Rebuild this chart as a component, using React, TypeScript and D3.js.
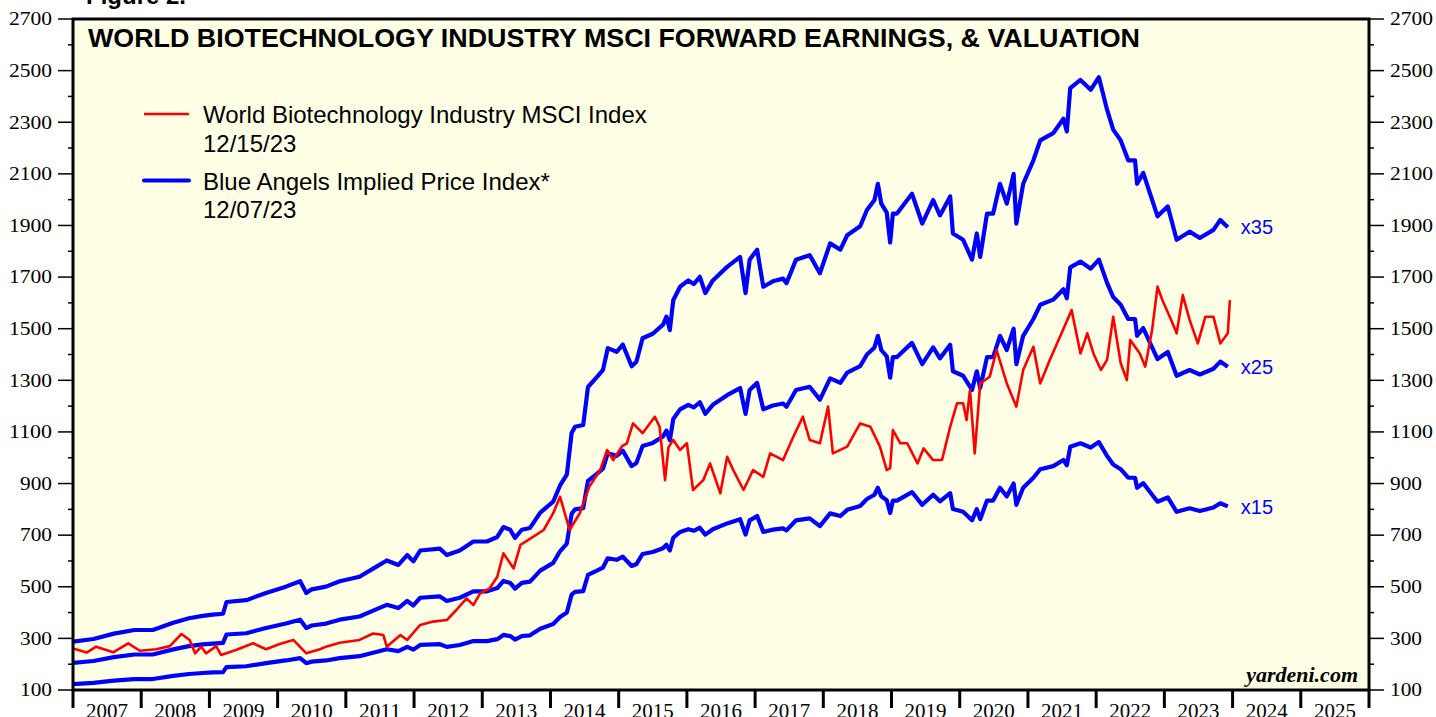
import { line, range, scaleLinear } from 'd3'

const width = 1436
const height = 717
const plot = { left: 73, right: 1369, top: 19, bottom: 690 }

// forward earnings (index points)
const earnYears = [
  2007.0, 2007.3, 2007.6, 2007.9, 2008.17, 2008.47, 2008.7, 2008.9, 2009.05, 2009.2,
  2009.25, 2009.54, 2009.83, 2010.12, 2010.33, 2010.42, 2010.5, 2010.71, 2010.91, 2011.2,
  2011.4, 2011.6, 2011.77, 2011.9, 2011.99, 2012.09, 2012.38, 2012.48, 2012.67, 2012.87,
  2013.07, 2013.22, 2013.31, 2013.41, 2013.48, 2013.58, 2013.7, 2013.85, 2014.04, 2014.14,
  2014.24, 2014.31, 2014.36, 2014.48, 2014.55, 2014.68, 2014.77, 2014.84, 2014.97, 2015.06,
  2015.19, 2015.26, 2015.35, 2015.5, 2015.65, 2015.7, 2015.75, 2015.8, 2015.9, 2016.02,
  2016.1, 2016.19, 2016.27, 2016.38, 2016.59, 2016.78, 2016.86, 2016.92, 2017.03, 2017.12,
  2017.26, 2017.41, 2017.46, 2017.6, 2017.8, 2017.95, 2018.1, 2018.25, 2018.35, 2018.54,
  2018.64, 2018.75, 2018.8, 2018.85, 2018.93, 2018.98, 2019.02, 2019.08, 2019.3, 2019.45,
  2019.61, 2019.71, 2019.86, 2019.9, 2020.05, 2020.18, 2020.25, 2020.3, 2020.4, 2020.49,
  2020.59, 2020.69, 2020.79, 2020.83, 2020.93, 2021.08, 2021.18, 2021.37, 2021.52, 2021.57,
  2021.62, 2021.77, 2021.92, 2022.04, 2022.16, 2022.25, 2022.36, 2022.47, 2022.57, 2022.6,
  2022.69, 2022.79, 2022.9, 2023.05, 2023.18, 2023.37, 2023.52, 2023.72, 2023.82, 2023.93,
]
const earnValues = [
  8.2, 8.5, 9.1, 9.5, 9.5, 10.3, 10.8, 11.06, 11.2, 11.3,
  12.6, 12.8, 13.6, 14.3, 14.9, 13.6, 14.0, 14.3, 14.9, 15.4,
  16.3, 17.2, 16.7, 17.8, 17.1, 18.3, 18.5, 17.8, 18.3, 19.3,
  19.3, 19.8, 20.9, 20.6, 19.7, 20.6, 20.8, 22.5, 23.7, 25.5,
  26.7, 31.3, 32.0, 32.2, 36.4, 37.5, 38.3, 40.7, 40.3, 41.1,
  38.7, 39.2, 41.8, 42.3, 43.3, 44.2, 42.7, 46.0, 47.5, 48.2,
  47.8, 48.6, 46.8, 48.2, 49.7, 50.8, 46.8, 50.5, 51.6, 47.5,
  48.1, 48.4, 47.9, 50.5, 51.0, 49.0, 52.3, 51.6, 53.2, 54.2,
  56.0, 57.1, 58.9, 56.7, 55.7, 52.4, 55.6, 55.6, 57.8, 54.5,
  57.1, 55.4, 57.5, 53.4, 52.7, 50.5, 53.4, 50.8, 55.6, 55.6,
  58.9, 56.7, 60.0, 54.5, 58.9, 61.5, 63.7, 64.5, 66.1, 64.7,
  69.5, 70.4, 69.3, 70.7, 67.1, 64.9, 63.7, 61.5, 61.5, 58.9,
  60.1, 57.8, 55.3, 56.4, 52.7, 53.6, 52.9, 53.8, 54.9, 54.1,
]
const multiples = [35, 25, 15]

const priceYears = [
  2007.0, 2007.2, 2007.34, 2007.59, 2007.81, 2007.98, 2008.22, 2008.42, 2008.59, 2008.71,
  2008.79, 2008.88, 2008.95, 2009.1, 2009.17, 2009.39, 2009.64, 2009.83, 2010.03, 2010.23,
  2010.42, 2010.62, 2010.71, 2010.91, 2011.2, 2011.4, 2011.55, 2011.6, 2011.8, 2011.9,
  2012.09, 2012.28, 2012.48, 2012.62, 2012.77, 2012.87, 2012.97, 2013.11, 2013.22, 2013.31,
  2013.46, 2013.56, 2013.75, 2013.9, 2014.04, 2014.14, 2014.28, 2014.43, 2014.57, 2014.73,
  2014.83, 2014.92, 2015.05, 2015.12, 2015.21, 2015.35, 2015.53, 2015.6, 2015.65, 2015.68,
  2015.73, 2015.8, 2015.9, 2016.0, 2016.09, 2016.24, 2016.34, 2016.49, 2016.59, 2016.68,
  2016.83, 2016.97, 2017.12, 2017.22, 2017.41, 2017.56, 2017.7, 2017.8, 2017.95, 2018.07,
  2018.14, 2018.35, 2018.54, 2018.69, 2018.83, 2018.93, 2018.98, 2019.02, 2019.13, 2019.23,
  2019.38, 2019.47, 2019.61, 2019.74, 2019.86, 2019.96, 2020.05, 2020.1, 2020.15, 2020.22,
  2020.3, 2020.44, 2020.54, 2020.69, 2020.83, 2020.93, 2021.08, 2021.18, 2021.32, 2021.47,
  2021.64, 2021.77, 2021.87, 2021.96, 2022.07, 2022.16, 2022.25, 2022.36, 2022.45, 2022.5,
  2022.64, 2022.72, 2022.82, 2022.9, 2022.97, 2023.1, 2023.18, 2023.27, 2023.37, 2023.49,
  2023.6, 2023.72, 2023.82, 2023.93, 2023.96,
]
const priceValues = [
  261, 245, 268, 246, 281, 252, 258, 270, 317, 294,
  242, 268, 242, 270, 236, 255, 281, 258, 278, 294,
  242, 258, 268, 283, 294, 319, 313, 268, 313, 294,
  352, 365, 371, 410, 455, 429, 475, 494, 539, 630,
  571, 662, 694, 720, 785, 849, 720, 785, 888, 952,
  1030, 991, 1045, 1056, 1133, 1095, 1159, 1120, 991, 913,
  1040, 1069, 1030, 1056, 875, 913, 978, 862, 1004, 952,
  875, 952, 926, 1017, 991, 1081, 1159, 1069, 1056, 1198,
  1017, 1043, 1133, 1120, 1043, 952, 960, 1107, 1056, 1056,
  978, 1036, 991, 991, 1120, 1211, 1211, 1146, 1262, 1017,
  1288, 1314, 1417, 1288, 1198, 1340, 1430, 1288, 1379, 1469,
  1572, 1404, 1482, 1404, 1340, 1379, 1546, 1366, 1301, 1456,
  1404, 1353, 1495, 1663, 1611, 1534, 1482, 1630, 1534, 1443,
  1546, 1546, 1443, 1482, 1611,
]

const yearLabels = range(2007, 2026)
const yMajor = range(100, 2701, 200)
const yMinor = range(200, 2700, 200)

const fontSerif = '"Liberation Serif", "Times New Roman", serif'
const fontSans = '"Liberation Sans", Arial, sans-serif'

function App() {
  const x = scaleLinear().domain([2007, 2026]).range([plot.left, plot.right])
  const y = scaleLinear().domain([100, 2700]).range([plot.bottom, plot.top])

  const path = line<[number, number]>()
    .x((d) => x(d[0]))
    .y((d) => y(d[1]))

  const priceData = priceYears.map((t, i) => [t, priceValues[i]] as [number, number])
  const lastEarn = earnValues[earnValues.length - 1]
  const lastEarnYear = earnYears[earnYears.length - 1]

  return (
    <svg
      width={width}
      height={height}
      style={{ position: 'absolute', left: 0, top: 0, display: 'block' }}
    >
      <defs>
        <clipPath id="plotClip">
          <rect x={plot.left} y={plot.top} width={plot.right - plot.left} height={plot.bottom - plot.top} />
        </clipPath>
      </defs>
      <rect width={width} height={height} fill="#fff" />
      <text x={86} y={4} fontFamily={fontSans} fontWeight="bold" fontSize={24}>
        Figure 2.
      </text>
      <rect
        x={plot.left}
        y={plot.top}
        width={plot.right - plot.left}
        height={plot.bottom - plot.top}
        fill="#ffffe5"
      />

      {/* y axes, both sides */}
      {yMajor.map((v) => (
        <g key={'M' + v}>
          <line x1={plot.left - 15} x2={plot.left} y1={y(v)} y2={y(v)} stroke="#000" strokeWidth={1.5} />
          <line x1={plot.right} x2={plot.right + 15} y1={y(v)} y2={y(v)} stroke="#000" strokeWidth={1.5} />
          <text
            x={52}
            y={y(v)}
            dy="0.33em"
            textAnchor="end"
            fontFamily={fontSerif}
            fontSize={19}
            textLength={v < 1000 ? 32 : 43}
            lengthAdjust="spacingAndGlyphs"
          >
            {v}
          </text>
          <text
            x={1390}
            y={y(v)}
            dy="0.33em"
            fontFamily={fontSerif}
            fontSize={19}
            textLength={v < 1000 ? 32 : 43}
            lengthAdjust="spacingAndGlyphs"
          >
            {v}
          </text>
        </g>
      ))}
      {yMinor.map((v) => (
        <g key={'m' + v}>
          <line x1={plot.left - 5} x2={plot.left} y1={y(v)} y2={y(v)} stroke="#000" strokeWidth={1.5} />
          <line x1={plot.right} x2={plot.right + 5} y1={y(v)} y2={y(v)} stroke="#000" strokeWidth={1.5} />
        </g>
      ))}

      {/* x axis */}
      {range(2007, 2027).map((yr) => (
        <line key={'t' + yr} x1={x(yr)} x2={x(yr)} y1={plot.bottom} y2={plot.bottom + 18} stroke="#000" strokeWidth={3} />
      ))}
      {yearLabels.map((yr) => (
        <text
          key={yr}
          x={x(yr + 0.5)}
          y={718}
          textAnchor="middle"
          fontFamily={fontSerif}
          fontSize={20}
          textLength={42}
          lengthAdjust="spacingAndGlyphs"
        >
          {yr}
        </text>
      ))}

      <g clipPath="url(#plotClip)">
        {multiples.map((m) => (
          <path
            key={m}
            d={path(earnYears.map((t, i) => [t, earnValues[i] * m] as [number, number])) ?? ''}
            fill="none"
            stroke="#0000ff"
            strokeWidth={4.2}
            strokeLinejoin="round"
          />
        ))}
        <path d={path(priceData) ?? ''} fill="none" stroke="#ff0000" strokeWidth={2.6} strokeLinejoin="round" />
      </g>

      {multiples.map((m) => (
        <text
          key={'lab' + m}
          x={x(lastEarnYear) + 13}
          y={y(lastEarn * m)}
          dy="0.36em"
          fill="#0000ff"
          fontFamily={fontSans}
          fontSize={20}
        >
          x{m}
        </text>
      ))}

      <rect
        x={plot.left}
        y={plot.top}
        width={plot.right - plot.left}
        height={plot.bottom - plot.top}
        fill="none"
        stroke="#000"
        strokeWidth={3}
      />

      <text
        x={88}
        y={47}
        fontFamily={fontSans}
        fontWeight="bold"
        fontSize={25.5}
        textLength={1052}
        lengthAdjust="spacingAndGlyphs"
      >
        WORLD BIOTECHNOLOGY INDUSTRY MSCI FORWARD EARNINGS, &amp; VALUATION
      </text>

      {/* legend */}
      <line x1={144} x2={189} y1={114} y2={114} stroke="#ff0000" strokeWidth={2.6} />
      <text x={203} y={123} fontFamily={fontSans} fontSize={24}>
        World Biotechnology Industry MSCI Index
      </text>
      <text x={203} y={152} fontFamily={fontSans} fontSize={24}>
        12/15/23
      </text>
      <line x1={144} x2={189} y1={180.5} y2={180.5} stroke="#0000ff" strokeWidth={4} strokeLinecap="round" />
      <text x={203} y={190} fontFamily={fontSans} fontSize={24}>
        Blue Angels Implied Price Index*
      </text>
      <text x={203} y={218} fontFamily={fontSans} fontSize={24}>
        12/07/23
      </text>

      <text
        x={1358}
        y={682}
        textAnchor="end"
        fontFamily={fontSerif}
        fontWeight="bold"
        fontStyle="italic"
        fontSize={22}
      >
        yardeni.com
      </text>
    </svg>
  )
}

export default App
